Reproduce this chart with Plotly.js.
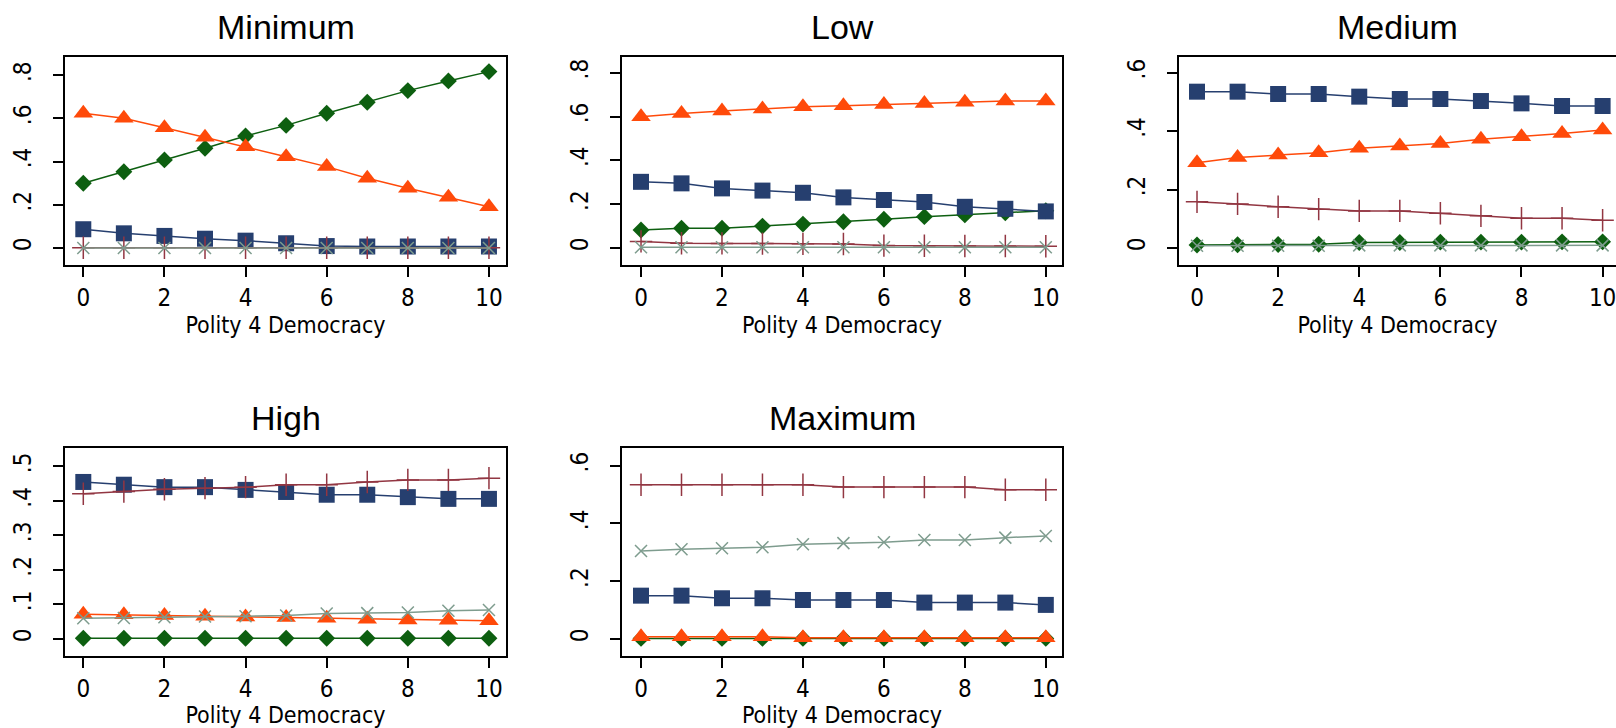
<!DOCTYPE html>
<html>
<head>
<meta charset="utf-8">
<script src="https://cdn.plot.ly/plotly-3.0.1.min.js"></script>
<style>
  html, body { margin: 0; padding: 0; background: #ffffff; }
  #chart { width: 1616px; height: 728px; }
</style>
</head>
<body>
<div id="chart"></div>
<script>
// ---- data ----
const democracy = [0, 1, 2, 3, 4, 5, 6, 7, 8, 9, 10];
const panelTitles = ["Minimum", "Low", "Medium", "High", "Maximum"];
const xAxisLabel = "Polity 4 Democracy";
const xTickVals = [0, 2, 4, 6, 8, 10];
const xTickText = ["0", "2", "4", "6", "8", "10"];
const yTickVals8 = [0, 0.2, 0.4, 0.6, 0.8];
const yTickText8 = ["0", ".2", ".4", ".6", ".8"];
const yTickVals6 = [0, 0.2, 0.4, 0.6];
const yTickText6 = ["0", ".2", ".4", ".6"];
const yTickVals5 = [0, 0.1, 0.2, 0.3, 0.4, 0.5];
const yTickText5 = ["0", ".1", ".2", ".3", ".4", ".5"];

// Minimum
const minGreen  = [0.300, 0.353, 0.408, 0.462, 0.519, 0.568, 0.624, 0.675, 0.729, 0.774, 0.817];
const minOrange = [0.624, 0.601, 0.557, 0.513, 0.469, 0.423, 0.377, 0.323, 0.277, 0.235, 0.191];
const minNavy   = [0.087, 0.068, 0.056, 0.043, 0.034, 0.022, 0.009, 0.007, 0.007, 0.007, 0.007];
const minMaroon = [0.001, 0.001, 0.001, 0.001, 0.001, 0.001, 0.001, 0.001, 0.001, 0.001, 0.001];
const minGray   = [0.000, 0.000, 0.000, 0.000, 0.000, 0.000, 0.000, 0.000, 0.000, 0.000, 0.000];
// Low
const lowGreen  = [0.082, 0.090, 0.090, 0.100, 0.109, 0.120, 0.131, 0.143, 0.151, 0.161, 0.170];
const lowOrange = [0.599, 0.614, 0.625, 0.634, 0.645, 0.649, 0.655, 0.660, 0.665, 0.671, 0.671];
const lowNavy   = [0.302, 0.295, 0.272, 0.262, 0.252, 0.231, 0.219, 0.210, 0.188, 0.179, 0.167];
const lowMaroon = [0.030, 0.022, 0.021, 0.020, 0.019, 0.018, 0.011, 0.010, 0.009, 0.009, 0.008];
const lowGray   = [0.003, 0.003, 0.003, 0.003, 0.003, 0.003, 0.003, 0.003, 0.003, 0.003, 0.003];
// Medium
const medGreen  = [0.010, 0.011, 0.012, 0.013, 0.019, 0.019, 0.020, 0.020, 0.020, 0.021, 0.021];
const medOrange = [0.292, 0.310, 0.318, 0.326, 0.341, 0.349, 0.358, 0.372, 0.381, 0.392, 0.404];
const medNavy   = [0.535, 0.535, 0.527, 0.527, 0.518, 0.510, 0.510, 0.503, 0.495, 0.486, 0.486];
const medMaroon = [0.158, 0.151, 0.141, 0.133, 0.127, 0.127, 0.119, 0.110, 0.102, 0.102, 0.095];
const medGray   = [0.008, 0.008, 0.008, 0.008, 0.009, 0.009, 0.009, 0.009, 0.009, 0.009, 0.009];
// High
const highGreen  = [0.002, 0.002, 0.002, 0.002, 0.002, 0.002, 0.002, 0.002, 0.002, 0.002, 0.002];
const highOrange = [0.072, 0.070, 0.068, 0.066, 0.064, 0.062, 0.060, 0.057, 0.055, 0.054, 0.053];
const highNavy   = [0.455, 0.447, 0.440, 0.440, 0.432, 0.426, 0.418, 0.418, 0.411, 0.406, 0.406];
const highMaroon = [0.421, 0.427, 0.434, 0.437, 0.440, 0.447, 0.447, 0.455, 0.461, 0.461, 0.466];
const highGray   = [0.060, 0.061, 0.063, 0.065, 0.066, 0.068, 0.074, 0.075, 0.077, 0.082, 0.084];
// Maximum
const maxGreen  = [0.002, 0.002, 0.002, 0.002, 0.002, 0.002, 0.002, 0.002, 0.002, 0.002, 0.002];
const maxOrange = [0.008, 0.008, 0.008, 0.008, 0.004, 0.004, 0.004, 0.004, 0.004, 0.004, 0.004];
const maxNavy   = [0.150, 0.150, 0.141, 0.141, 0.135, 0.135, 0.135, 0.126, 0.126, 0.126, 0.118];
const maxMaroon = [0.534, 0.534, 0.534, 0.534, 0.534, 0.526, 0.526, 0.526, 0.526, 0.517, 0.517];
const maxGray   = [0.305, 0.311, 0.314, 0.318, 0.328, 0.332, 0.335, 0.343, 0.343, 0.351, 0.357];

// ---- styles ----
const C = {
  green: "#0d5f10",
  orange: "#ff4a0a",
  navy: "#263f6f",
  maroon: "#923642",
  gray: "#7e9c8e"
};
const seriesStyle = [
  { key: "green",  symbol: "diamond",          size: 13, lw: 1.5, open: false },
  { key: "orange", symbol: "triangle-up",      size: 17, lw: 1.5, open: false },
  { key: "navy",   symbol: "square",           size: 16, lw: 1.5, open: false },
  { key: "maroon", symbol: "cross-thin-open",  size: 16, lw: 1.5, open: true  },
  { key: "gray",   symbol: "x-thin-open",      size: 12, lw: 1.5, open: true  }
];
const panels = [
  [minGreen, minOrange, minNavy, minMaroon, minGray],
  [lowGreen, lowOrange, lowNavy, lowMaroon, lowGray],
  [medGreen, medOrange, medNavy, medMaroon, medGray],
  [highGreen, highOrange, highNavy, highMaroon, highGray],
  [maxGreen, maxOrange, maxNavy, maxMaroon, maxGray]
];

const W = 1616, H = 728;
// pixel frames: [left, right, top, bottom]
const frames = [
  [65, 506, 57, 265],
  [622, 1062, 57, 265],
  [1179, 1616, 57, 265],
  [65, 506, 448, 656],
  [622, 1062, 448, 656]
];
const xRanges = [[-0.451, 10.42], [-0.47, 10.40], [-0.444, 10.33], [-0.451, 10.42], [-0.47, 10.40]];
const yRanges = [[-0.0787, 0.8847], [-0.0776, 0.8717], [-0.0582, 0.6537], [-0.0493, 0.5534], [-0.059, 0.6615]];
const yTicks = [
  [yTickVals8, yTickText8], [yTickVals8, yTickText8], [yTickVals6, yTickText6],
  [yTickVals5, yTickText5], [yTickVals6, yTickText6]
];

const FONT = "'Liberation Sans Narrow', 'Arial Narrow', 'DejaVu Sans Condensed', sans-serif";
const traces = [];
const layout = {
  width: W, height: H,
  margin: { l: 0, r: 0, t: 0, b: 0 },
  paper_bgcolor: "#ffffff",
  plot_bgcolor: "#ffffff",
  showlegend: false,
  font: { family: FONT, color: "#000000", size: 24 },
  annotations: []
};

panels.forEach((series, p) => {
  const n = p + 1;
  const xa = n === 1 ? "x" : "x" + n;
  const ya = n === 1 ? "y" : "y" + n;
  series.forEach((vals, s) => {
    const st = seriesStyle[s];
    const col = C[st.key];
    traces.push({
      type: "scatter", mode: "lines+markers",
      x: democracy, y: vals, xaxis: xa, yaxis: ya,
      line: { color: col, width: st.lw },
      marker: st.open
        ? { symbol: st.symbol, size: st.size, color: col, line: { color: col, width: 1.5 } }
        : { symbol: st.symbol, size: st.size, color: col, line: { width: 0 } },
      hoverinfo: "skip", cliponaxis: false
    });
  });
  const f = frames[p];
  const xKey = n === 1 ? "xaxis" : "xaxis" + n;
  const yKey = n === 1 ? "yaxis" : "yaxis" + n;
  layout[xKey] = {
    domain: [f[0] / W, f[1] / W],
    anchor: ya,
    range: xRanges[p],
    tickmode: "array", tickvals: xTickVals, ticktext: xTickText,
    ticks: "outside", ticklen: 10, tickwidth: 2, tickcolor: "#000",
    ticklabeloverflow: "allow",
    showline: true, linecolor: "#000", linewidth: 2, mirror: true,
    showgrid: false, zeroline: false,
    tickfont: { family: FONT, size: 24, color: "#000" },
    title: { text: xAxisLabel, font: { family: FONT, size: 23, color: "#000" }, standoff: 0 }
  };
  layout[yKey] = {
    domain: [1 - f[3] / H, 1 - f[2] / H],
    anchor: xa,
    range: yRanges[p],
    tickmode: "array", tickvals: yTicks[p][0], ticktext: yTicks[p][1],
    ticks: "outside", ticklen: 10, tickwidth: 2, tickcolor: "#000",
    tickangle: -90,
    ticklabelstandoff: 12,
    ticklabeloverflow: "allow",
    showline: true, linecolor: "#000", linewidth: 2, mirror: p !== 2,
    showgrid: false, zeroline: false,
    tickfont: { family: FONT, size: 24, color: "#000" }
  };
  layout.annotations.push({
    text: panelTitles[p],
    xref: "paper", yref: "paper",
    x: (f[0] + f[1]) / 2 / W,
    y: 1 - (f[2] - 30) / H,
    xanchor: "center", yanchor: "middle",
    showarrow: false,
    font: { family: "'Liberation Sans', Arial, sans-serif", size: 34, color: "#000" }
  });
});

Plotly.newPlot("chart", traces, layout, { displayModeBar: false, staticPlot: true });
</script>
</body>
</html>
